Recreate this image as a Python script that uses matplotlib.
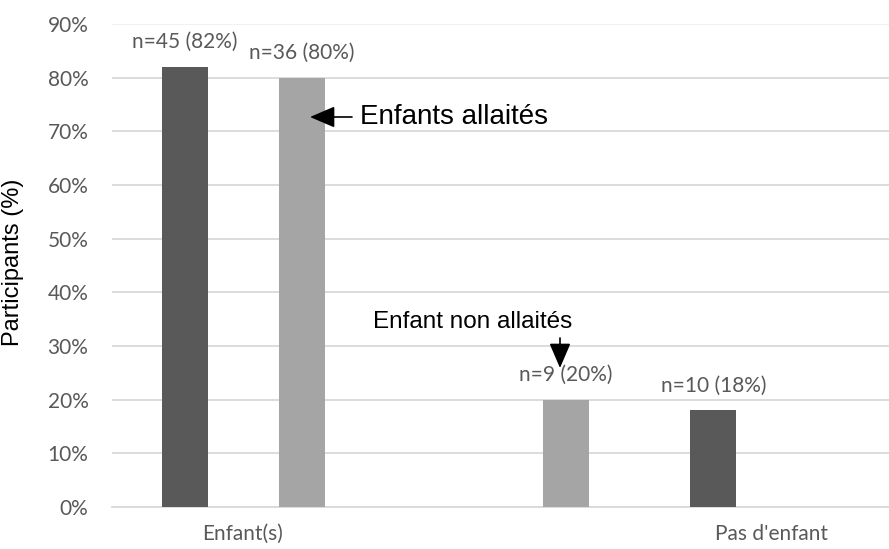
import matplotlib
matplotlib.use("Agg")
import matplotlib.pyplot as plt
from matplotlib.ticker import PercentFormatter

categories = ["Enfant(s)", "Pas d'enfant"]
participants = [0.82, 0.18]
participants_labels = ["n=45 (82%)", "n=10 (18%)"]
allaitement = [0.80, 0.20]
allaitement_labels = ["n=36 (80%)", "n=9 (20%)"]
y_ticks = [0.0, 0.1, 0.2, 0.3, 0.4, 0.5, 0.6, 0.7, 0.8, 0.9]

# layout (offsets of each series within each category)
dark_offsets = [-0.110, -0.111]
light_offsets = [0.111, -0.389]
bar_w = 0.087
dark_col = "#595959"
light_col = "#a5a5a5"
tick_col = "#595959"
grid_col = "#d9d9d9"

fig = plt.figure(figsize=(8.89, 5.49), dpi=100)
ax = fig.add_axes([112/889, 42/549, 777/889, 483/549])

xd = [i + o for i, o in enumerate(dark_offsets)]
xl = [i + o for i, o in enumerate(light_offsets)]
bd = ax.bar(xd, participants, width=bar_w, color=dark_col, zorder=3)
bl = ax.bar(xl, allaitement, width=bar_w, color=light_col, zorder=3)

for bars, labs in ((bd, participants_labels), (bl, allaitement_labels)):
    for r, lab in zip(bars, labs):
        ax.annotate(lab, (r.get_x() + r.get_width()/2, r.get_height()),
                    xytext=(0, 18), textcoords="offset points",
                    ha="center", va="center", fontsize=15,
                    family="Lato", color=tick_col)

ax.set_xlim(-0.2476, 1.2212)
ax.set_ylim(0, 0.9)
ax.set_yticks(y_ticks)
ax.yaxis.set_major_formatter(PercentFormatter(1.0, decimals=0))
ax.set_xticks(range(len(categories)))
ax.set_xticklabels(categories)
ax.tick_params(axis="y", length=0, pad=17, labelsize=15, labelcolor=tick_col)
ax.tick_params(axis="x", length=0, pad=12, labelsize=15, labelcolor=tick_col)
for lab in ax.get_xticklabels() + ax.get_yticklabels():
    lab.set_family("Lato")

ax.grid(axis="y", color=grid_col, lw=1.3, zorder=0)
ax.set_axisbelow(True)
gl = ax.yaxis.get_gridlines()
gl[-1].set_color("#f0f0f0")
for s in ("top", "right", "left"):
    ax.spines[s].set_visible(False)
ax.spines["bottom"].set_color(grid_col)
ax.spines["bottom"].set_linewidth(1.3)

ax.set_ylabel("Participants (%)", family="Liberation Sans", fontsize=17, color="black")
ax.yaxis.set_label_coords(-0.113, 0.507)

# annotations
ax.annotate("", xy=(310, 549-117), xycoords="figure pixels",
            xytext=(352, 549-117), textcoords="figure pixels",
            arrowprops=dict(arrowstyle="-|>,head_length=0.7,head_width=0.3",
                            color="black", lw=1.2, mutation_scale=22,
                            shrinkA=0, shrinkB=0))
fig.text(360/889, 1-117/549, "Enfants allaités", family="Liberation Sans",
         fontsize=20, ha="left", va="center", color="black")
ax.annotate("", xy=(560, 549-368), xycoords="figure pixels",
            xytext=(560, 549-338), textcoords="figure pixels",
            arrowprops=dict(arrowstyle="-|>,head_length=0.7,head_width=0.3",
                            color="black", lw=1.2, mutation_scale=22,
                            shrinkA=0, shrinkB=0))
fig.text(373/889, 1-322/549, "Enfant non allaités", family="Liberation Sans",
         fontsize=17.5, ha="left", va="center", color="black")

fig.savefig("out.png", dpi=100)
